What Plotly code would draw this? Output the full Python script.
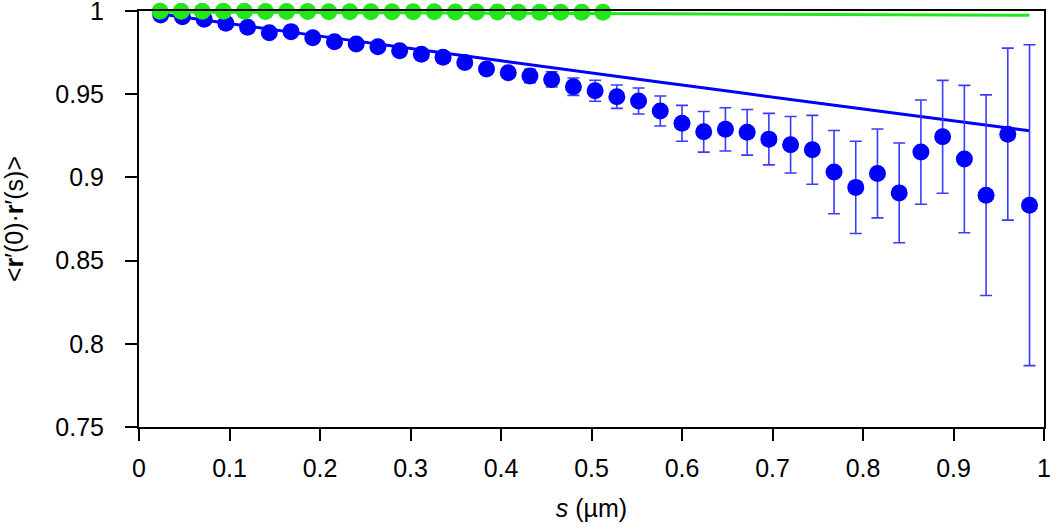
import plotly.graph_objects as go

# ---- data ----
blue_s = [0.024, 0.048, 0.072, 0.096, 0.120, 0.144, 0.168, 0.192, 0.216, 0.240,
          0.264, 0.288, 0.312, 0.336, 0.360, 0.384, 0.408, 0.432, 0.456, 0.480,
          0.504, 0.528, 0.552, 0.576, 0.600, 0.624, 0.648, 0.672, 0.696, 0.720,
          0.744, 0.768, 0.792, 0.816, 0.840, 0.864, 0.888, 0.912, 0.936, 0.960,
          0.984]
blue_corr = [0.9976, 0.9966, 0.9950, 0.9926, 0.9902, 0.9869, 0.9876, 0.9839, 0.9815, 0.9802,
             0.9785, 0.9761, 0.9740, 0.9722, 0.9691, 0.9651, 0.9629, 0.9609, 0.9589, 0.9545,
             0.9521, 0.9485, 0.9459, 0.9399, 0.9325, 0.9274, 0.9289, 0.9271, 0.9230, 0.9196,
             0.9166, 0.9032, 0.8940, 0.9024, 0.8907, 0.9152, 0.9244, 0.9110, 0.8893, 0.9260,
             0.8833]
blue_err = [0.0005, 0.0006, 0.0007, 0.0008, 0.0009, 0.0010, 0.0011, 0.0012, 0.0014, 0.0015,
            0.0017, 0.0019, 0.0020, 0.0022, 0.0023, 0.0025, 0.0030, 0.0040, 0.0046, 0.0052,
            0.0063, 0.0070, 0.0078, 0.0090, 0.0108, 0.0122, 0.0130, 0.0137, 0.0155, 0.0170,
            0.0207, 0.0250, 0.0277, 0.0267, 0.0300, 0.0313, 0.0339, 0.0443, 0.0603, 0.0517,
            0.0964]

green_s = [0.0233, 0.0466, 0.0699, 0.0932, 0.1165, 0.1398, 0.1631, 0.1864, 0.2097, 0.2330,
           0.2563, 0.2796, 0.3029, 0.3262, 0.3495, 0.3728, 0.3961, 0.4194, 0.4427, 0.4660,
           0.4893, 0.5126]
green_corr = [0.9999, 0.9999, 0.9998, 0.9998, 0.9998, 0.9997, 0.9997, 0.9997, 0.9996, 0.9996,
              0.9996, 0.9995, 0.9995, 0.9995, 0.9994, 0.9994, 0.9994, 0.9993, 0.9993, 0.9993,
              0.9992, 0.9992]

blue_fit_s = [0.02, 0.2, 0.4, 0.6, 0.8, 0.984]
blue_fit = [0.9985, 0.9849, 0.9701, 0.9555, 0.9411, 0.9280]
green_fit_s = [0.02, 0.5, 0.984]
green_fit = [0.9994, 0.9985, 0.9974]

x_ticks = [0, 0.1, 0.2, 0.3, 0.4, 0.5, 0.6, 0.7, 0.8, 0.9, 1]
x_ticklabels = ["0", "0.1", "0.2", "0.3", "0.4", "0.5", "0.6", "0.7", "0.8", "0.9", "1"]
y_ticks = [0.75, 0.8, 0.85, 0.9, 0.95, 1]
y_ticklabels = ["0.75", "0.8", "0.85", "0.9", "0.95", "1"]

BLUE = "#0000ff"
GREEN = "#22e61a"
FONT = "Liberation Sans, Arial, sans-serif"

fig = go.Figure()
fig.add_trace(go.Scatter(x=blue_fit_s, y=blue_fit, mode="lines",
                         line=dict(color=BLUE, width=3, shape="spline"),
                         cliponaxis=False, showlegend=False))
fig.add_trace(go.Scatter(x=blue_s, y=blue_corr, mode="markers",
                         marker=dict(color=BLUE, size=17),
                         error_y=dict(type="data", array=blue_err, visible=True,
                                      color="#3b3bff", thickness=1.6, width=6),
                         cliponaxis=False, showlegend=False))
fig.add_trace(go.Scatter(x=green_fit_s, y=green_fit, mode="lines",
                         line=dict(color=GREEN, width=3, shape="spline"),
                         cliponaxis=False, showlegend=False))
fig.add_trace(go.Scatter(x=green_s, y=green_corr, mode="markers",
                         marker=dict(color=GREEN, size=17),
                         cliponaxis=False, showlegend=False))

axis_common = dict(showline=True, linecolor="black", linewidth=2, mirror=True,
                   ticks="outside", ticklen=12, tickwidth=2, tickcolor="black",
                   showgrid=False, zeroline=False, automargin=False,
                   ticklabeloverflow="allow",
                   tickfont=dict(family=FONT, size=25, color="black"))

fig.update_xaxes(range=[0, 1], tickvals=x_ticks, ticktext=x_ticklabels,
                 ticklabelstandoff=6,
                 title=dict(text="<i>s</i> (µm)", font=dict(family=FONT, size=25, color="black"),
                            standoff=18),
                 **axis_common)
fig.update_yaxes(range=[0.75, 1], tickvals=y_ticks, ticktext=y_ticklabels,
                 ticklabelstandoff=16,
                 title=dict(text="&lt;<b>r</b>′(0)·<b>r</b>′(s)&gt;",
                            font=dict(family=FONT, size=25, color="black"),
                            standoff=41),
                 **axis_common)

fig.update_layout(width=1050, height=524,
                  margin=dict(l=139, r=6, t=11, b=97),
                  paper_bgcolor="white", plot_bgcolor="white")

# remove the browser's default 8px body margin so the figure fills the window exactly
fig.write_html("out.html",
               config={"displayModeBar": False},
               post_script="document.body.style.margin='0';document.body.style.overflow='hidden';")
